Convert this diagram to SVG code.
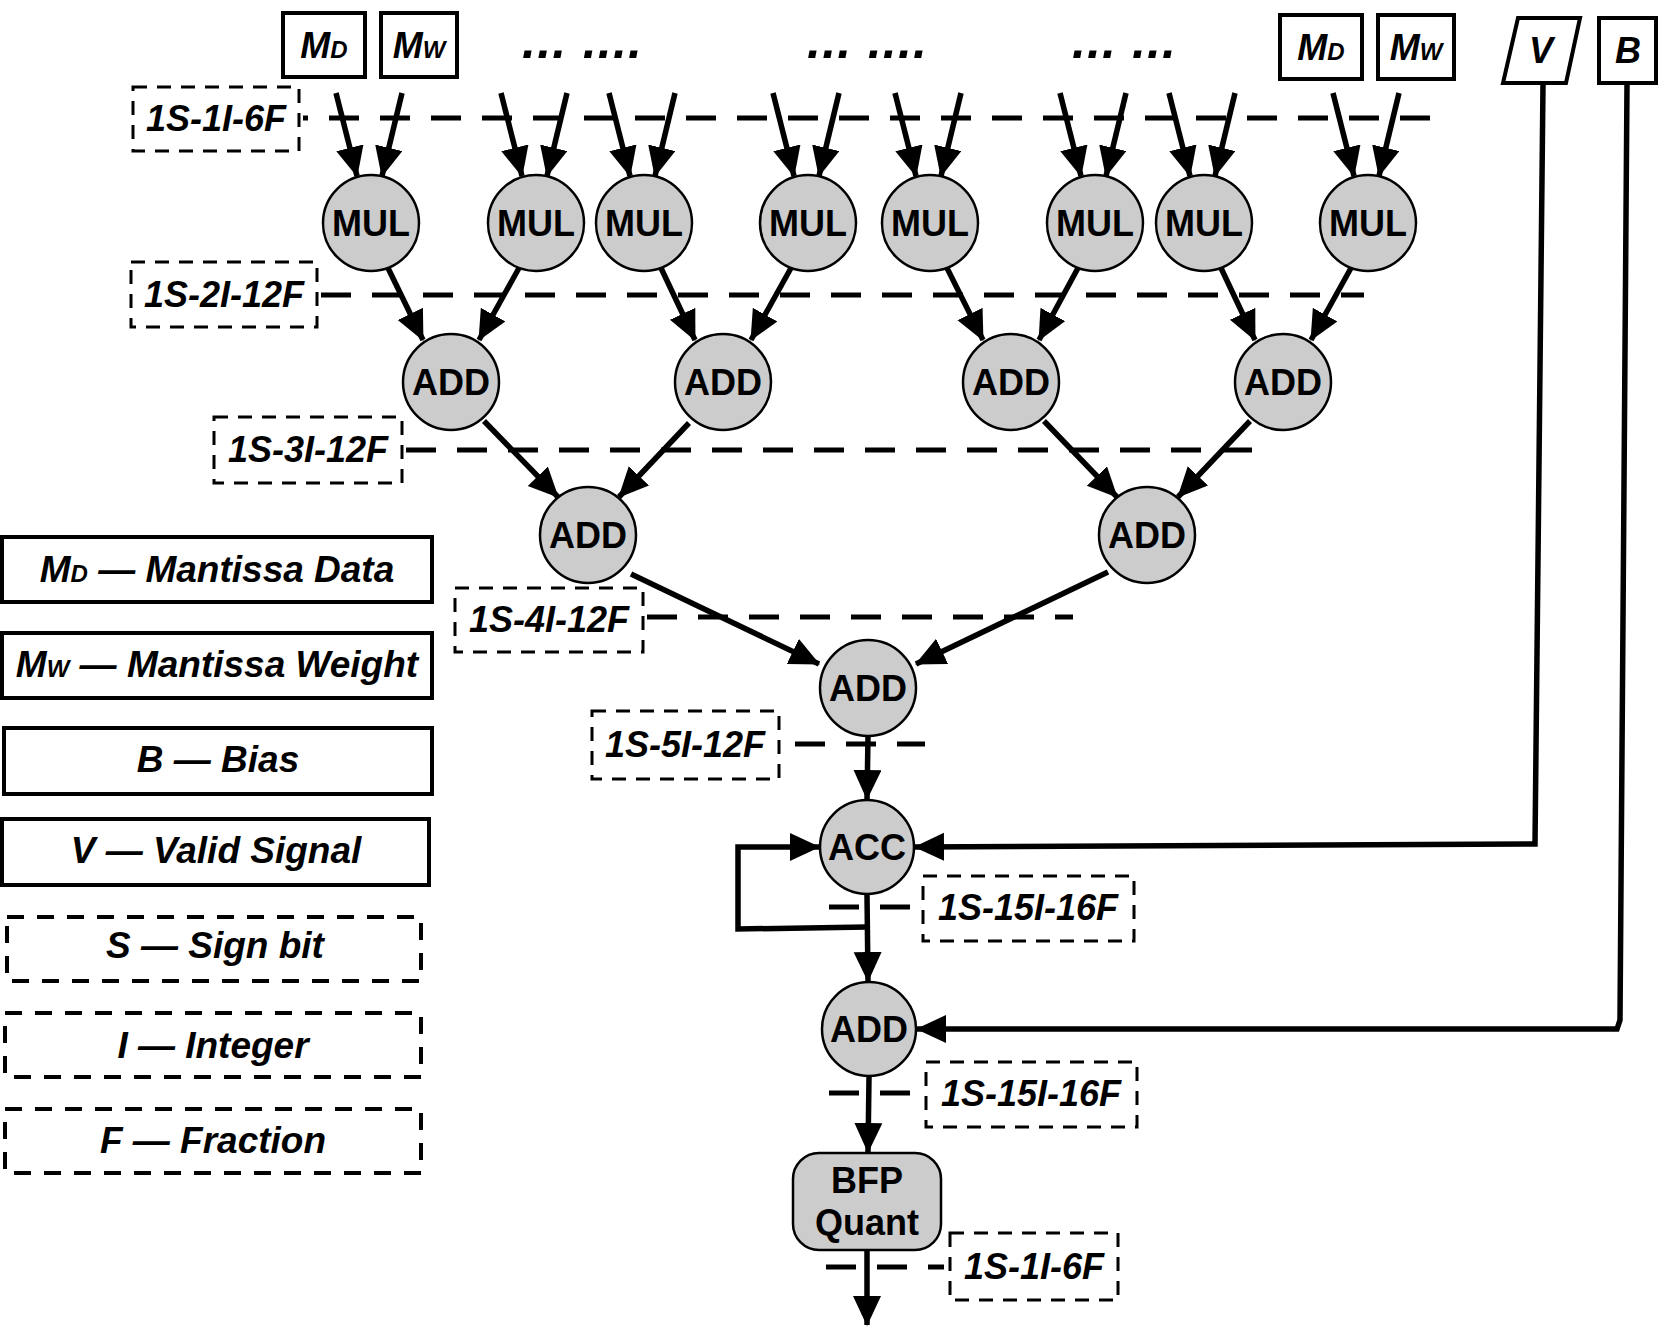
<svg xmlns="http://www.w3.org/2000/svg" width="1658" height="1331" viewBox="0 0 1658 1331">
<defs>
<marker id="ah" markerUnits="userSpaceOnUse" markerWidth="32" markerHeight="30" refX="29" refY="14" orient="auto">
<path d="M0,0 L30,14 L0,28 z" fill="#000"/>
</marker>
<style>
.bg{fill:#fff}
.nc{fill:#cccccc;stroke:#000;stroke-width:2.5}
.nt{font-family:"Liberation Sans",Arial,sans-serif;font-weight:bold;font-size:36px;text-anchor:middle;fill:#000}
.it{font-family:"Liberation Sans",Arial,sans-serif;font-weight:bold;font-style:italic;font-size:36px;text-anchor:middle;fill:#000}
.lg{font-size:37px}
.dt{font-size:50px}
.sub{font-size:24px}
.box{fill:#fff;stroke:#000;stroke-width:4}
.lbox{fill:none;stroke:#000;stroke-width:3;stroke-dasharray:14 10}
.dbox{fill:none;stroke:#000;stroke-width:4;stroke-dasharray:17 13}
.lvl{fill:none;stroke:#000;stroke-width:5;stroke-dasharray:30 21}
.c{fill:none;stroke:#000;stroke-width:5.5;marker-end:url(#ah)}
</style>
</defs>
<rect class="bg" x="0" y="0" width="1658" height="1331"/>

<!-- level lines and labels -->
<g id="levels">
<rect class="lbox" x="133" y="87" width="166" height="64"/>
<text class="it" x="216" y="131">1S-1I-6F</text>
<line class="lvl" x1="303" y1="118" x2="1430" y2="118" stroke-dashoffset="25"/>
<rect class="lbox" x="131" y="262" width="186" height="65"/>
<text class="it" x="224" y="307">1S-2I-12F</text>
<line class="lvl" x1="321" y1="295" x2="1364" y2="295"/>
<rect class="lbox" x="214" y="417" width="188" height="66"/>
<text class="it" x="308" y="462">1S-3I-12F</text>
<line class="lvl" x1="406" y1="450" x2="1264" y2="450"/>
<rect class="lbox" x="455" y="588" width="188" height="64"/>
<text class="it" x="549" y="632">1S-4I-12F</text>
<line class="lvl" x1="647" y1="617" x2="1073" y2="617"/>
<rect class="lbox" x="592" y="711" width="187" height="68"/>
<text class="it" x="685" y="757">1S-5I-12F</text>
<line class="lvl" x1="795" y1="744" x2="925" y2="744"/>
<rect class="lbox" x="923" y="876" width="211" height="65"/>
<text class="it" x="1028" y="920">1S-15I-16F</text>
<line class="lvl" x1="829" y1="907" x2="910" y2="907"/>
<rect class="lbox" x="926" y="1062" width="211" height="65"/>
<text class="it" x="1031" y="1106">1S-15I-16F</text>
<line class="lvl" x1="829" y1="1093" x2="910" y2="1093"/>
<rect class="lbox" x="950" y="1233" width="168" height="67"/>
<text class="it" x="1034" y="1279">1S-1I-6F</text>
<line class="lvl" x1="826" y1="1267" x2="944" y2="1267"/>
</g>

<!-- connectors -->
<g id="connectors">
<path class="c" d="M336,93 L357,176"/><path class="c" d="M402,93 L382,176"/>
<path class="c" d="M501,93 L522,176"/><path class="c" d="M567,93 L547,176"/>
<path class="c" d="M609,93 L630,176"/><path class="c" d="M675,93 L655,176"/>
<path class="c" d="M773,93 L794,176"/><path class="c" d="M839,93 L819,176"/>
<path class="c" d="M895,93 L916,176"/><path class="c" d="M961,93 L941,176"/>
<path class="c" d="M1060,93 L1081,176"/><path class="c" d="M1126,93 L1106,176"/>
<path class="c" d="M1169,93 L1190,176"/><path class="c" d="M1235,93 L1215,176"/>
<path class="c" d="M1333,93 L1354,176"/><path class="c" d="M1399,93 L1379,176"/>

<path class="c" d="M388,268 L423,340"/><path class="c" d="M519,268 L479,340"/>
<path class="c" d="M661,268 L695,340"/><path class="c" d="M791,268 L751,340"/>
<path class="c" d="M947,268 L983,340"/><path class="c" d="M1078,268 L1039,340"/>
<path class="c" d="M1221,268 L1255,340"/><path class="c" d="M1351,268 L1311,340"/>

<path class="c" d="M484,421 L558,497"/><path class="c" d="M689,423 L619,497"/>
<path class="c" d="M1044,421 L1117,497"/><path class="c" d="M1250,421 L1178,497"/>

<path class="c" d="M631,574 L819,664"/><path class="c" d="M1108,572 L916,664"/>

<path class="c" d="M868,736 L867,799"/>
<path class="c" d="M867,895 L868,981"/>
<path class="c" d="M867,927 L738,929 L738,847 L819,847"/>
<path class="c" d="M1543,84 L1535,844 L915,847"/>
<path class="c" d="M1627,84 L1620,1020 L1617,1029 L917,1029"/>
<path class="c" d="M869,1077 L868,1152"/>
<path class="c" d="M867,1250 L867,1325"/>
</g>

<!-- top inputs -->
<g id="in-md1"><rect class="box" x="283" y="13" width="82" height="64"/><text class="it" x="324" y="58">M<tspan class="sub">D</tspan></text></g>
<g id="in-mw1"><rect class="box" x="381" y="13" width="76" height="64"/><text class="it" x="419" y="58">M<tspan class="sub">W</tspan></text></g>
<g id="in-md2"><rect class="box" x="1280" y="15" width="82" height="64"/><text class="it" x="1321" y="60">M<tspan class="sub">D</tspan></text></g>
<g id="in-mw2"><rect class="box" x="1378" y="15" width="76" height="64"/><text class="it" x="1416" y="60">M<tspan class="sub">W</tspan></text></g>
<g id="in-v"><polygon class="box" points="1518,18 1580,18 1566,83 1503,83"/><text class="it" x="1541" y="63">V</text></g>
<g id="in-b"><rect class="box" x="1599" y="18" width="57" height="65"/><text class="it" x="1628" y="63">B</text></g>
<g id="dots">
<text class="it dt" x="582" y="58" textLength="120" lengthAdjust="spacing">... ....</text>
<text class="it dt" x="867" y="58" textLength="120" lengthAdjust="spacing">... ....</text>
<text class="it dt" x="1124" y="58" textLength="104" lengthAdjust="spacing">... ...</text>
</g>

<!-- MUL nodes -->
<g id="mul1"><circle class="nc" cx="371" cy="223" r="48"/><text class="nt" x="371" y="236">MUL</text></g>
<g id="mul2"><circle class="nc" cx="536" cy="223" r="48"/><text class="nt" x="536" y="236">MUL</text></g>
<g id="mul3"><circle class="nc" cx="644" cy="223" r="48"/><text class="nt" x="644" y="236">MUL</text></g>
<g id="mul4"><circle class="nc" cx="808" cy="223" r="48"/><text class="nt" x="808" y="236">MUL</text></g>
<g id="mul5"><circle class="nc" cx="930" cy="223" r="48"/><text class="nt" x="930" y="236">MUL</text></g>
<g id="mul6"><circle class="nc" cx="1095" cy="223" r="48"/><text class="nt" x="1095" y="236">MUL</text></g>
<g id="mul7"><circle class="nc" cx="1204" cy="223" r="48"/><text class="nt" x="1204" y="236">MUL</text></g>
<g id="mul8"><circle class="nc" cx="1368" cy="223" r="48"/><text class="nt" x="1368" y="236">MUL</text></g>

<!-- ADD nodes -->
<g id="add1"><circle class="nc" cx="451" cy="382" r="48"/><text class="nt" x="451" y="395">ADD</text></g>
<g id="add2"><circle class="nc" cx="723" cy="382" r="48"/><text class="nt" x="723" y="395">ADD</text></g>
<g id="add3"><circle class="nc" cx="1011" cy="382" r="48"/><text class="nt" x="1011" y="395">ADD</text></g>
<g id="add4"><circle class="nc" cx="1283" cy="382" r="48"/><text class="nt" x="1283" y="395">ADD</text></g>
<g id="add5"><circle class="nc" cx="588" cy="535" r="48"/><text class="nt" x="588" y="548">ADD</text></g>
<g id="add6"><circle class="nc" cx="1147" cy="535" r="48"/><text class="nt" x="1147" y="548">ADD</text></g>
<g id="add7"><circle class="nc" cx="868" cy="688" r="48"/><text class="nt" x="868" y="701">ADD</text></g>
<g id="acc"><circle class="nc" cx="867" cy="847" r="47"/><text class="nt" x="867" y="860">ACC</text></g>
<g id="addb"><circle class="nc" cx="869" cy="1029" r="47"/><text class="nt" x="869" y="1042">ADD</text></g>
<g id="bfp"><rect class="nc" x="793" y="1153" width="148" height="97" rx="26" ry="26"/><text class="nt" x="867" y="1193">BFP</text><text class="nt" x="867" y="1235">Quant</text></g>

<!-- legend -->
<g id="leg-md"><rect class="box" x="2" y="537" width="430" height="65"/><text class="it lg" x="217" y="582">M<tspan class="sub">D</tspan> — Mantissa Data</text></g>
<g id="leg-mw"><rect class="box" x="2" y="633" width="430" height="65"/><text class="it lg" x="217" y="677">M<tspan class="sub">W</tspan> — Mantissa Weight</text></g>
<g id="leg-b"><rect class="box" x="4" y="728" width="428" height="66"/><text class="it lg" x="218" y="772">B — Bias</text></g>
<g id="leg-v"><rect class="box" x="2" y="819" width="427" height="66"/><text class="it lg" x="216" y="863">V — Valid Signal</text></g>
<g id="leg-s"><rect class="dbox" x="7" y="917" width="414" height="64"/><text class="it lg" x="215" y="958">S — Sign bit</text></g>
<g id="leg-i"><rect class="dbox" x="5" y="1013" width="416" height="64"/><text class="it lg" x="213" y="1058">I — Integer</text></g>
<g id="leg-f"><rect class="dbox" x="5" y="1109" width="416" height="64"/><text class="it lg" x="213" y="1153">F — Fraction</text></g>
</svg>
